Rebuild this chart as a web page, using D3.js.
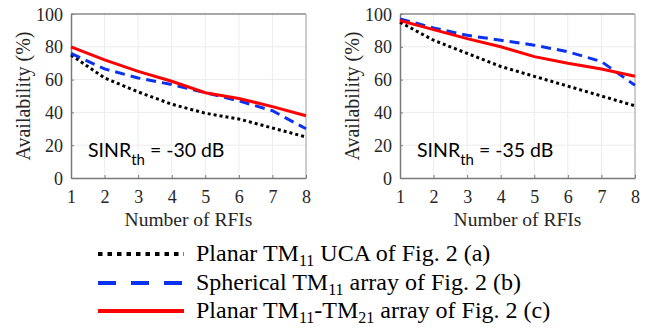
<!DOCTYPE html>
<html>
    <head>
        <meta charset="UTF-8">
        <title>Availability vs number of RFIs</title>
        <style>
            body { margin: 0; background: #fff; }
            svg { display: block; }
        </style>
    </head>
    <body>
        <script src="https://d3js.org/d3.v7.min.js"></script>
        <script type="text/javascript">

            // data
            var rfis = [1, 2, 3, 4, 5, 6, 7, 8];
            var yTicks = [0, 20, 40, 60, 80, 100];

            // SINR_th = -30 dB
            var planar30    = [75, 61, 52.5, 45, 39.5, 36, 30.5, 25];
            var spherical30 = [76, 66.5, 61, 57, 52, 47, 41, 30];
            var dual30      = [80, 72, 65, 59, 52, 48.5, 43.5, 38];

            // SINR_th = -35 dB
            var planar35    = [95, 84, 76, 68, 62, 56, 50, 44];
            var spherical35 = [97, 91.5, 87, 84, 81, 77, 71, 56.5];
            var dual35      = [96, 90.5, 85, 80, 74, 70, 66.5, 62];

            var panelLabels = ["-30 dB", "-35 dB"];

            var legendLabels = [
                ["Planar TM", "11", " UCA of Fig. 2 (a)"],
                ["Spherical TM", "11", " array of Fig. 2 (b)"],
                ["Planar TM", "11", "-TM", "21", " array of Fig. 2 (c)"]
            ];

            var styles = [
                {color: "#000000", dash: "3,3"},
                {color: "#0a32f0", dash: "10,6"},
                {color: "#ff0000", dash: null}
            ];

            var SERIF = "Liberation Serif";
            var SANS = "Lato";

            var svg = d3.select("body").append("svg")
                .attr("width", 649)
                .attr("height", 328);

            function drawPanel(left, series, label) {
                var width = 235, top = 14, height = 164;

                var x = d3.scaleLinear().domain([1, 8]).range([left, left + width]);
                var y = d3.scaleLinear().domain([0, 100]).range([top + height, top]);

                var g = svg.append("g");

                // grid
                var grid = g.append("g").attr("stroke", "#ececec").attr("stroke-width", 1);
                grid.selectAll(".gx").data(rfis.slice(1, -1)).enter().append("line")
                    .attr("x1", function(d){ return x(d); }).attr("x2", function(d){ return x(d); })
                    .attr("y1", top).attr("y2", top + height);
                grid.selectAll(".gy").data(yTicks.slice(1, -1)).enter().append("line")
                    .attr("y1", function(d){ return y(d); }).attr("y2", function(d){ return y(d); })
                    .attr("x1", left).attr("x2", left + width);

                // box: top/right lighter like matlab
                g.append("line").attr("x1", left).attr("x2", left + width).attr("y1", top).attr("y2", top)
                    .attr("stroke", "#8a8a8a").attr("stroke-width", 1.5);
                g.append("line").attr("x1", left + width).attr("x2", left + width).attr("y1", top).attr("y2", top + height)
                    .attr("stroke", "#bcbcbc").attr("stroke-width", 1.5);

                // axes
                var xAxis = d3.axisBottom(x).tickValues(rfis).tickFormat(d3.format("d"))
                    .tickSizeInner(-3).tickSizeOuter(0).tickPadding(12);
                var yAxis = d3.axisLeft(y).tickValues(yTicks).tickFormat(d3.format("d"))
                    .tickSizeInner(-3).tickSizeOuter(0).tickPadding(8);

                var gx = g.append("g")
                    .attr("transform", "translate(0," + (top + height) + ")")
                    .call(xAxis);
                var gy = g.append("g")
                    .attr("transform", "translate(" + left + ",0)")
                    .call(yAxis);

                [gx, gy].forEach(function(a) {
                    a.attr("font-family", SERIF).attr("font-size", 18);
                    a.select(".domain").attr("stroke", "#7a7a7a").attr("stroke-width", 1.5);
                    a.selectAll(".tick line").attr("stroke", "#7a7a7a");
                    a.selectAll(".tick text").attr("fill", "#262626");
                });
                gy.selectAll(".tick text").attr("dy", "0.34em");

                // titles
                g.append("text")
                    .attr("font-family", SERIF).attr("font-size", 19.5).attr("fill", "#262626")
                    .attr("x", left + width / 2).attr("y", 226)
                    .attr("text-anchor", "middle")
                    .text("Number of RFIs");
                g.append("text")
                    .attr("font-family", SERIF).attr("font-size", 20).attr("fill", "#262626")
                    .attr("transform", "translate(" + (left - 41) + "," + (top + height / 2) + ") rotate(-90)")
                    .attr("text-anchor", "middle")
                    .text("Availability (%)");

                // lines
                var line = d3.line()
                    .x(function(d, i){ return x(rfis[i]); })
                    .y(function(d){ return y(d); });

                series.forEach(function(s, k) {
                    g.append("path")
                        .attr("fill", "none")
                        .attr("stroke-width", 3)
                        .attr("stroke", styles[k].color)
                        .attr("stroke-dasharray", styles[k].dash)
                        .attr("d", line(s));
                });

                // SINR annotation
                var t = g.append("text")
                    .attr("font-family", SANS).attr("font-size", 19.5)
                    .attr("x", left + 17).attr("y", 157);
                t.append("tspan").text("SINR");
                t.append("tspan").attr("font-size", 15).attr("dy", 8).text("th");
                t.append("tspan").attr("dy", -8).text(" = " + label);
            }

            drawPanel(71, [planar30, spherical30, dual30], panelLabels[0]);
            drawPanel(400, [planar35, spherical35, dual35], panelLabels[1]);

            // legend
            var legendY = [254, 283, 311];
            var leg = svg.append("g");
            legendLabels.forEach(function(parts, k) {
                var ly = legendY[k];
                leg.append("line")
                    .attr("x1", 98).attr("x2", 184)
                    .attr("y1", ly).attr("y2", ly)
                    .attr("stroke", styles[k].color)
                    .attr("stroke-width", 4)
                    .attr("stroke-dasharray", k === 0 ? "4.5,5" : (k === 1 ? "18,15" : null));
                var t = leg.append("text")
                    .attr("font-family", SERIF).attr("font-size", 24)
                    .attr("x", 196).attr("y", ly + 7);
                parts.forEach(function(p, i) {
                    if (i % 2 === 1) {
                        t.append("tspan").attr("font-size", 16).attr("dy", 5).text(p);
                    } else {
                        t.append("tspan").attr("dy", i === 0 ? 0 : -5).text(p);
                    }
                });
            });

        </script>
    </body>
</html>
